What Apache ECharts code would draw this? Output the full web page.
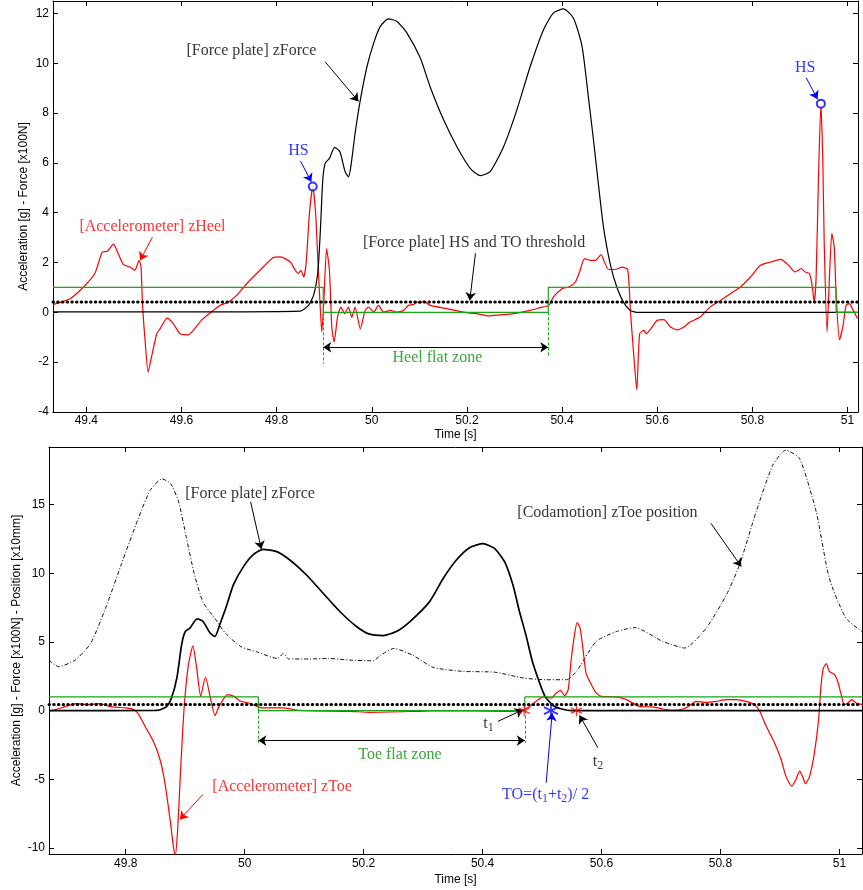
<!DOCTYPE html>
<html>
<head>
<meta charset="utf-8">
<script src="https://cdn.jsdelivr.net/npm/echarts@6/dist/echarts.min.js"></script>
<style>
html, body { margin: 0; padding: 0; background: #fff; }
#chart { width: 863px; height: 890px; }
</style>
</head>
<body>
<div id="chart"></div>
<script>
// ---- top panel (heel) ----
var heelTicksX = [49.4, 49.6, 49.8, 50, 50.2, 50.4, 50.6, 50.8, 51];
var heelTicksY = [-4, -2, 0, 2, 4, 6, 8, 10, 12];

// [Accelerometer] zHeel, [t, g]
var zHeel = [[49.331,0.32],[49.366,0.55],[49.394,1.02],[49.418,1.56],[49.434,2.43],[49.444,2.45],[49.457,2.74],[49.467,2.36],[49.478,1.92],[49.492,1.82],[49.502,1.69],[49.511,2.09],[49.515,1.82],[49.518,0.35],[49.523,-0.99],[49.530,-2.40],[49.537,-1.80],[49.548,-0.86],[49.555,-0.66],[49.570,-0.23],[49.583,-0.46],[49.597,-0.86],[49.614,-0.90],[49.625,-0.72],[49.642,-0.32],[49.667,0.08],[49.681,0.28],[49.698,0.41],[49.716,0.68],[49.737,1.15],[49.765,1.69],[49.793,2.20],[49.808,2.23],[49.829,2.02],[49.839,1.69],[49.846,1.56],[49.851,1.69],[49.857,1.42],[49.862,1.96],[49.869,3.97],[49.876,5.05],[49.882,3.97],[49.887,1.96],[49.892,0.08],[49.895,-0.79],[49.899,0.35],[49.905,2.56],[49.911,1.69],[49.916,-0.59],[49.921,-1.19],[49.928,-0.19],[49.935,0.21],[49.943,-0.05],[49.951,0.21],[49.958,-0.19],[49.965,0.21],[49.976,-0.66],[49.986,0.08],[49.993,0.21],[50.004,0.01],[50.014,0.28],[50.025,0.01],[50.039,0.08],[50.053,0.01],[50.067,0.08],[50.077,0.28],[50.088,0.32],[50.095,0.41],[50.102,0.37],[50.109,0.45],[50.123,0.28],[50.158,0.15],[50.193,0.01],[50.228,-0.08],[50.245,-0.14],[50.270,-0.10],[50.298,-0.05],[50.333,0.08],[50.354,0.19],[50.372,0.28],[50.382,0.62],[50.400,0.95],[50.414,1.02],[50.428,1.22],[50.438,1.69],[50.447,2.16],[50.459,2.09],[50.470,2.09],[50.482,2.32],[50.489,2.02],[50.498,1.72],[50.512,1.72],[50.526,1.82],[50.538,1.72],[50.544,-0.05],[50.551,-1.80],[50.557,-3.11],[50.563,-0.86],[50.572,-0.72],[50.577,-0.86],[50.600,-0.32],[50.614,-0.29],[50.628,-0.59],[50.642,-0.70],[50.656,-0.59],[50.669,-0.39],[50.690,-0.19],[50.711,0.21],[50.733,0.48],[50.754,0.75],[50.775,1.02],[50.796,1.42],[50.817,1.89],[50.838,2.02],[50.860,2.13],[50.876,1.89],[50.890,1.62],[50.903,1.76],[50.911,1.62],[50.920,1.56],[50.926,1.02],[50.930,0.41],[50.934,1.42],[50.939,5.44],[50.944,8.38],[50.948,6.12],[50.951,2.76],[50.957,-0.79],[50.962,1.42],[50.967,3.17],[50.972,2.63],[50.976,0.75],[50.983,-1.10],[50.990,-0.59],[50.997,0.28],[51.004,0.35],[51.012,0.08],[51.021,-0.25]];

// [Force plate] zForce, [t, x100N]
var heelForce = [[49.33,0.02],[49.60,0.02],[49.85,0.05],[49.867,0.28],[49.878,0.70],[49.887,1.69],[49.892,3.30],[49.897,5.31],[49.902,5.98],[49.911,6.18],[49.922,6.62],[49.933,6.45],[49.944,5.65],[49.951,5.44],[49.956,5.85],[49.965,7.19],[49.976,8.53],[49.990,9.87],[50.004,10.81],[50.018,11.48],[50.035,11.78],[50.053,11.68],[50.074,11.21],[50.102,10.21],[50.123,9.04],[50.151,7.73],[50.179,6.65],[50.207,5.78],[50.228,5.49],[50.249,5.65],[50.277,6.65],[50.305,8.13],[50.333,9.87],[50.361,11.35],[50.382,12.02],[50.403,12.18],[50.424,11.81],[50.442,10.68],[50.456,8.53],[50.466,6.92],[50.477,5.04],[50.487,3.43],[50.501,1.96],[50.515,1.02],[50.529,0.41],[50.543,0.08],[50.557,0.0],[51.022,0.0]];

var heelFlatT = [49.33, 49.898, 50.371, 50.976, 51.022];
var heelFlatLevel = [1, 0, 1, 0, 0];
var heelThreshold = 0.42;
var heelStrikes = [[49.876, 5.05], [50.944, 8.38]];

// ---- bottom panel (toe) ----
var toeTicksX = [49.8, 50, 50.2, 50.4, 50.6, 50.8, 51];
var toeTicksY = [-10, -5, 0, 5, 10, 15];

// [Accelerometer] zToe
var zToe = [[49.671,-0.05],[49.682,0.07],[49.699,0.31],[49.716,0.51],[49.738,0.44],[49.755,0.51],[49.777,0.27],[49.800,0.20],[49.814,0.07],[49.822,-0.29],[49.834,-1.26],[49.845,-2.11],[49.856,-3.32],[49.864,-4.77],[49.870,-6.47],[49.876,-8.41],[49.880,-9.86],[49.883,-10.6],[49.887,-8.89],[49.892,-4.53],[49.898,0.07],[49.905,3.22],[49.913,4.72],[49.919,3.22],[49.926,1.04],[49.934,2.45],[49.943,0.80],[49.950,-0.36],[49.957,0.31],[49.971,1.16],[49.982,1.04],[49.993,0.68],[50.007,0.56],[50.018,0.36],[50.029,0.20],[50.063,0.20],[50.093,0.02],[50.177,-0.05],[50.210,-0.12],[50.289,-0.05],[50.328,0],[50.440,-0.05],[50.465,0],[50.479,0.31],[50.490,0.68],[50.502,1.0],[50.516,0.92],[50.524,1.29],[50.531,1.48],[50.538,1.09],[50.544,1.53],[50.549,3.71],[50.555,5.65],[50.559,6.42],[50.564,6.01],[50.569,4.43],[50.574,2.74],[50.583,1.89],[50.591,1.29],[50.600,1.04],[50.625,1.0],[50.642,0.80],[50.664,0.31],[50.686,0.27],[50.703,0.12],[50.720,0.02],[50.737,0.12],[50.748,0.36],[50.759,0.68],[50.776,0.60],[50.793,0.68],[50.810,0.80],[50.826,0.80],[50.843,0.68],[50.857,0.44],[50.866,-0.05],[50.877,-1.14],[50.891,-2.35],[50.902,-3.56],[50.910,-4.77],[50.920,-5.50],[50.927,-5.01],[50.933,-4.41],[50.938,-4.77],[50.943,-5.31],[50.950,-4.77],[50.958,-3.07],[50.965,-0.65],[50.969,1.77],[50.973,3.10],[50.978,3.42],[50.983,2.86],[50.992,2.62],[50.998,2.01],[51.003,1.16],[51.008,0.44],[51.014,0.56],[51.021,0.80],[51.028,0.56],[51.039,0.44]];

var toeForce = [[49.671,0],[49.85,0.02],[49.858,0.07],[49.869,0.31],[49.877,0.92],[49.886,2.38],[49.894,4.80],[49.900,5.76],[49.908,6.01],[49.920,6.69],[49.930,6.49],[49.942,5.65],[49.950,5.40],[49.958,6.25],[49.970,7.70],[49.981,9.16],[49.998,10.49],[50.014,11.34],[50.031,11.75],[50.054,11.58],[50.076,10.97],[50.104,9.88],[50.132,8.55],[50.160,7.22],[50.188,6.13],[50.210,5.57],[50.233,5.47],[50.255,5.76],[50.278,6.49],[50.311,7.94],[50.334,9.64],[50.356,10.97],[50.378,11.87],[50.401,12.16],[50.420,11.82],[50.437,10.85],[50.451,9.16],[50.462,7.22],[50.473,5.50],[50.483,3.71],[50.494,2.25],[50.505,1.04],[50.519,0.36],[50.533,0.12],[50.550,0.0],[51.04,0]];

// [Codamotion] zToe position, [t, x10mm]
var toePos = [[49.671,3.68],[49.687,3.20],[49.715,3.68],[49.741,4.89],[49.767,7.56],[49.793,10.71],[49.820,13.86],[49.841,16.04],[49.861,16.88],[49.876,16.5],[49.889,15.2],[49.902,12.6],[49.915,10.0],[49.930,7.9],[49.950,6.71],[49.968,5.62],[49.994,4.65],[50.020,4.29],[50.055,3.80],[50.065,4.16],[50.074,3.76],[50.107,3.76],[50.142,3.80],[50.177,3.68],[50.216,3.63],[50.229,4.05],[50.251,4.53],[50.282,4.05],[50.317,3.15],[50.367,2.86],[50.421,2.80],[50.468,2.38],[50.507,2.25],[50.541,2.25],[50.558,2.86],[50.591,5.04],[50.625,5.76],[50.656,6.05],[50.703,5.04],[50.740,4.56],[50.776,6.01],[50.810,8.43],[50.832,10.61],[50.860,14.48],[50.888,17.88],[50.910,18.97],[50.933,18.36],[50.961,14.48],[50.983,9.64],[51.011,6.74],[51.038,5.76]];

var toeFlatT = [49.671, 50.023, 50.471, 51.04];
var toeFlatLevel = [1, 0, 1, 1];
var toeThreshold = 0.44;
var toeT1T2 = [[50.470, 0], [50.558, 0]];
var toeOff = [[50.515, 0]];

var serif = "'Liberation Serif', 'Times New Roman', serif";
var sans = "'Liberation Sans', Arial, Helvetica, sans-serif";
var green = '#14a814';
var asterisk = 'path://M0,-10L0,10M-9,-5L9,5M-9,5L9,-5';

function pairs(t, v) {
  return t.map(function (x, i) { return [x, v[i]]; });
}

function axisPair(dim, grid, min, max, ticks, name, nameGap, margin) {
  var main = {
    type: 'value', gridIndex: grid, min: min, max: max,
    position: dim === 'x' ? 'bottom' : 'left',
    axisLine: { show: true, onZero: false, lineStyle: { color: '#000', width: 1 } },
    axisTick: { show: true, inside: true, length: 5, customValues: ticks, lineStyle: { color: '#000' } },
    axisLabel: { show: true, customValues: ticks, margin: margin, color: '#000', fontFamily: sans, fontSize: 12 },
    splitLine: { show: false },
    name: name, nameLocation: 'middle', nameGap: nameGap, nameMoveOverlap: false,
    nameTextStyle: { color: '#000', fontFamily: sans, fontSize: 12 }
  };
  var mirror = {
    type: 'value', gridIndex: grid, min: min, max: max,
    position: dim === 'x' ? 'top' : 'right',
    axisLine: { show: true, onZero: false, lineStyle: { color: '#000', width: 1 } },
    axisTick: { show: true, inside: true, length: 5, customValues: ticks, lineStyle: { color: '#000' } },
    axisLabel: { show: false },
    splitLine: { show: false }
  };
  return [main, mirror];
}

// measured curve, lightly smoothed
function curve(xi, yi, data, color, width, z, dash) {
  return {
    type: 'line', xAxisIndex: xi, yAxisIndex: yi, data: data, showSymbol: false, symbol: 'none',
    smooth: 0.2,
    lineStyle: { color: color, width: width, type: dash || 'solid' }, z: z
  };
}

function notes(xi, yi, items, arrows) {
  return {
    type: 'scatter', xAxisIndex: xi, yAxisIndex: yi, symbolSize: 1, silent: true, z: 10,
    itemStyle: { color: 'rgba(0,0,0,0)' },
    label: { show: true, position: 'inside', fontFamily: serif, fontSize: 16 },
    data: items.map(function (n) {
      return { value: n.at, label: { formatter: n.text, color: n.color, rich: {
        s: { fontFamily: serif, fontSize: 12, color: n.color, padding: [9, 0, 0, 0] }
      } } };
    }),
    markLine: {
      silent: true, animation: false, symbol: ['none', 'arrow'], symbolSize: 8,
      label: { show: false },
      data: arrows.map(function (a) {
        return [{ coord: a.from, symbol: a.both ? 'arrow' : 'none',
                  lineStyle: { color: a.color, width: 1, type: 'solid' } },
                { coord: a.to }];
      })
    }
  };
}

var chart = echarts.init(document.getElementById('chart'));

var topX = axisPair('x', 0, 49.33, 51.022, heelTicksX, 'Time [s]', 17, 3);
var topY = axisPair('y', 0, -4, 12.5, heelTicksY, 'Acceleration [g] - Force [x100N]', 23, 4);
var botX = axisPair('x', 1, 49.671, 51.038, toeTicksX, 'Time [s]', 20, 4);
var botY = axisPair('y', 1, -10.44, 19.2, toeTicksY, 'Acceleration [g] - Force [x100N] - Position [x10mm]', 26, 4);

var heelItems = [
  { text: '[Force plate] zForce', at: [49.747, 10.50], color: '#000' },
  { text: 'HS', at: [49.846, 6.48], color: '#0000ff' },
  { text: '[Accelerometer] zHeel', at: [49.539, 3.42], color: '#ff0000' },
  { text: '[Force plate] HS and TO threshold', at: [50.215, 2.78], color: '#000' },
  { text: 'HS', at: [50.911, 9.82], color: '#0000ff' },
  { text: 'Heel flat zone', at: [50.138, -1.81], color: '#0a8f0a' }
];
var heelArrowList = [
  { from: [49.902, 10.06], to: [49.972, 8.47], color: '#000' },
  { from: [49.850, 6.08], to: [49.873, 5.24], color: '#0000ff' },
  { from: [49.539, 3.02], to: [49.513, 2.09], color: '#ff0000' },
  { from: [50.218, 2.37], to: [50.206, 0.48], color: '#000' },
  { from: [50.913, 9.42], to: [50.937, 8.56], color: '#0000ff' },
  { from: [heelFlatT[1], -1.40], to: [heelFlatT[2], -1.40], color: '#000', both: true }
];
var toeItems = [
  { text: '[Force plate] zForce', at: [50.009, 15.77], color: '#000' },
  { text: '[Codamotion] zToe position', at: [50.610, 14.39], color: '#000' },
  { text: '[Accelerometer] zToe', at: [50.063, -5.52], color: '#ff0000' },
  { text: 't{s|1}', at: [50.410, -0.94], color: '#000' },
  { text: 't{s|2}', at: [50.594, -3.71], color: '#000' },
  { text: 'TO=(t{s|1}+t{s|2})/ 2', at: [50.506, -6.10], color: '#0000ff' },
  { text: 'Toe flat zone', at: [50.261, -3.20], color: '#0a8f0a' }
];
var toeArrowList = [
  { from: [50.010, 15.21], to: [50.028, 11.77], color: '#000' },
  { from: [50.784, 13.64], to: [50.835, 10.49], color: '#000' },
  { from: [49.930, -6.10], to: [49.891, -7.92], color: '#ff0000' },
  { from: [50.426, -0.78], to: [50.468, 0.07], color: '#000' },
  { from: [50.594, -2.71], to: [50.563, -0.34], color: '#000' },
  { from: [50.507, -5.25], to: [50.517, -0.17], color: '#0000ff' },
  { from: [toeFlatT[1], -2.18], to: [toeFlatT[2], -2.18], color: '#000', both: true }
];

chart.setOption({
  animation: false,
  backgroundColor: '#fff',
  grid: [
    { left: 53, top: 1, width: 805, height: 411, outerBoundsMode: 'none', containLabel: false },
    { left: 49, top: 447, width: 813, height: 407, outerBoundsMode: 'none', containLabel: false }
  ],
  xAxis: [topX[0], topX[1], botX[0], botX[1]],
  yAxis: [topY[0], topY[1], botY[0], botY[1]],
  series: [
    // top panel
    curve(0, 0, zHeel, '#ff0000', 1.2, 2),
    curve(0, 0, heelForce, '#000', 1.2, 3),
    { type: 'line', xAxisIndex: 0, yAxisIndex: 0, data: pairs(heelFlatT, heelFlatLevel), step: 'end',
      showSymbol: false, symbol: 'none', lineStyle: { color: green, width: 1.2 }, z: 4,
      markLine: { silent: true, animation: false, symbol: ['none', 'none'], label: { show: false },
        lineStyle: { color: green, width: 1, type: [3, 2] },
        data: [[{ coord: [heelFlatT[1], 0] }, { coord: [heelFlatT[1], -2.07] }],
               [{ coord: [heelFlatT[2], 0] }, { coord: [heelFlatT[2], -1.8] }]] } },
    { type: 'line', xAxisIndex: 0, yAxisIndex: 0, data: [[49.33, heelThreshold], [51.022, heelThreshold]],
      showSymbol: false, symbol: 'none', lineStyle: { color: '#000', width: 3, type: [0.5, 4.2], cap: 'round' }, z: 5 },
    { type: 'scatter', xAxisIndex: 0, yAxisIndex: 0, data: heelStrikes, symbol: 'emptyCircle', symbolSize: 8,
      itemStyle: { color: '#0000ff', borderColor: '#0000ff', borderWidth: 1.2 }, z: 6 },
    notes(0, 0, heelItems, heelArrowList),

    // bottom panel
    curve(2, 2, toePos, '#111', 1, 1, [4, 2, 1, 2]),
    curve(2, 2, zToe, '#ff0000', 1.2, 2),
    curve(2, 2, toeForce, '#000', 1.7, 3),
    { type: 'line', xAxisIndex: 2, yAxisIndex: 2, data: pairs(toeFlatT, toeFlatLevel), step: 'end',
      showSymbol: false, symbol: 'none', lineStyle: { color: green, width: 1.2 }, z: 4,
      markLine: { silent: true, animation: false, symbol: ['none', 'none'], label: { show: false },
        lineStyle: { color: green, width: 1, type: [3, 2] },
        data: [[{ coord: [toeFlatT[1], 0] }, { coord: [toeFlatT[1], -2.35] }],
               [{ coord: [toeFlatT[2], 0] }, { coord: [toeFlatT[2], -2.35] }]] } },
    { type: 'line', xAxisIndex: 2, yAxisIndex: 2, data: [[49.671, toeThreshold], [51.038, toeThreshold]],
      showSymbol: false, symbol: 'none', lineStyle: { color: '#000', width: 3, type: [0.5, 4.2], cap: 'round' }, z: 5 },
    { type: 'scatter', xAxisIndex: 2, yAxisIndex: 2, data: toeT1T2, symbol: asterisk, symbolSize: 11,
      itemStyle: { color: 'rgba(0,0,0,0)', borderColor: '#ff0000', borderWidth: 1.2 }, z: 6 },
    { type: 'scatter', xAxisIndex: 2, yAxisIndex: 2, data: toeOff, symbol: asterisk, symbolSize: 14,
      itemStyle: { color: 'rgba(0,0,0,0)', borderColor: '#0000ff', borderWidth: 1.8 }, z: 6 },
    notes(2, 2, toeItems, toeArrowList)
  ]
});
</script>
</body>
</html>
